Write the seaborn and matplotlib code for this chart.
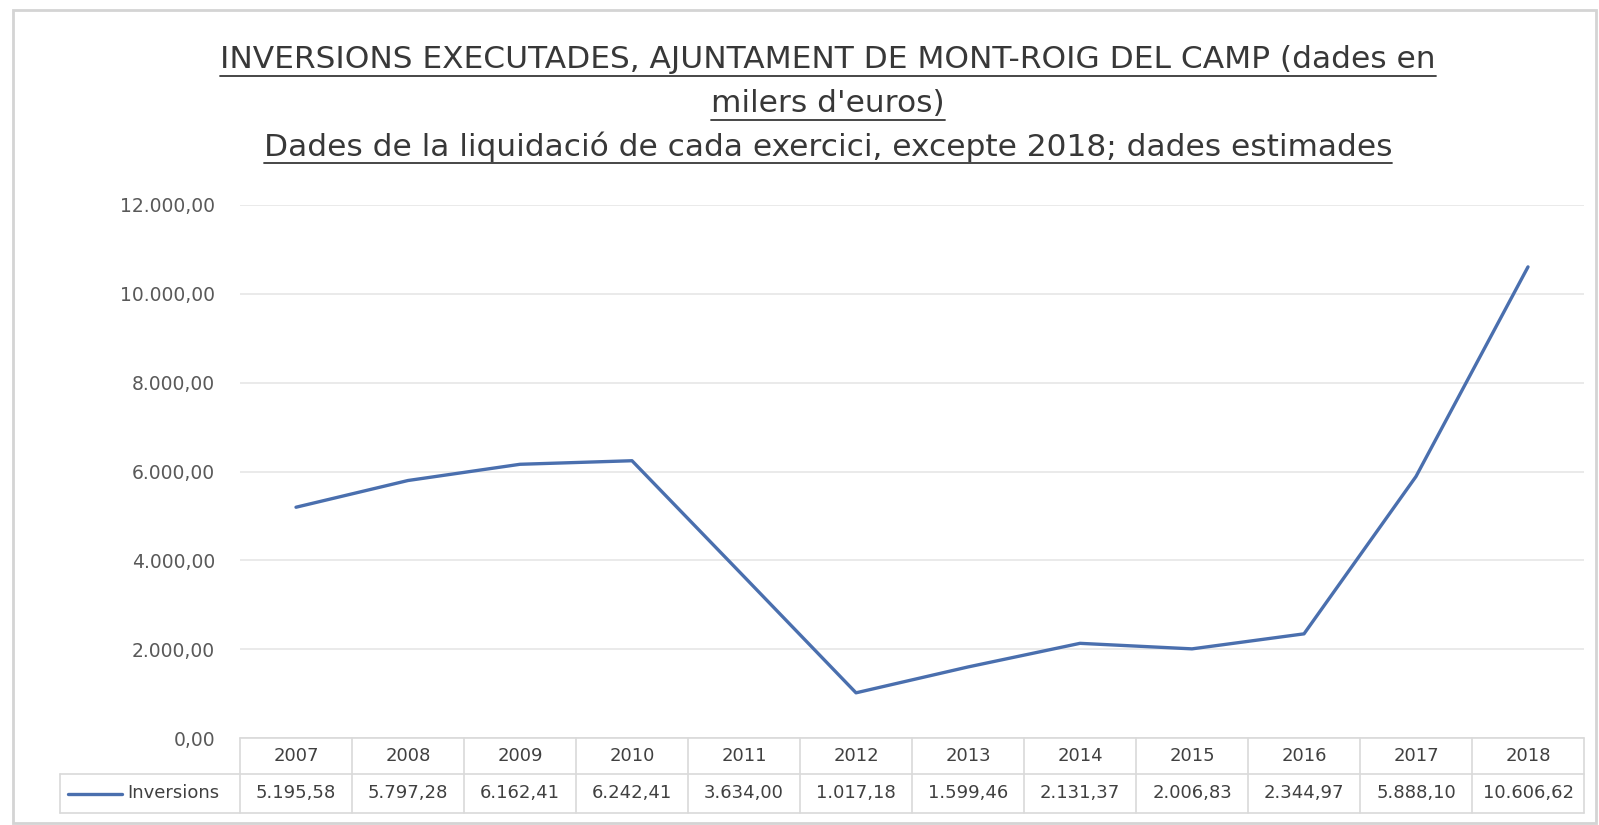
import pandas as pd
import matplotlib.pyplot as plt
import seaborn as sns
from matplotlib.lines import Line2D
from matplotlib.patches import Rectangle

years = [2007, 2008, 2009, 2010, 2011, 2012, 2013, 2014, 2015, 2016, 2017, 2018]
inversions = [5195.58, 5797.28, 6162.41, 6242.41, 3634.00, 1017.18,
              1599.46, 2131.37, 2006.83, 2344.97, 5888.10, 10606.62]
series_name = "Inversions"
y_ticks = [0, 2000, 4000, 6000, 8000, 10000, 12000]
title_lines = [
    "INVERSIONS EXECUTADES, AJUNTAMENT DE MONT-ROIG DEL CAMP (dades en",
    "milers d'euros)",
    "Dades de la liquidació de cada exercici, excepte 2018; dades estimades",
]


def euro_fmt(v):
    # 10606.62 -> "10.606,62"
    s = f"{v:,.2f}"
    return s.replace(",", "X").replace(".", ",").replace("X", ".")


W, H = 1599, 825
sns.set_style("white")
plt.rcParams['font.family'] = ['DejaVu Sans']

fig = plt.figure(figsize=(W / 100, H / 100), dpi=100)


def fx(px):
    return px / W


def fy(py):
    return 1 - py / H


line_color = '#4a6fae'
text_gray = '#595959'
dark_gray = '#404040'
title_color = '#383838'
grid_gray = '#e6e6e6'
table_gray = '#d9d9d9'

# plot area
left, right, top, bottom = 240, 1584, 205, 738
ax = fig.add_axes([fx(left), fy(bottom), fx(right) - fx(left), fy(top) - fy(bottom)])
df = pd.DataFrame({"year": years, "value": inversions})
sns.lineplot(data=df, x="year", y="value", ax=ax, color=line_color, linewidth=2.4)
ax.set_xlim(years[0] - 0.5, years[-1] + 0.5)
ax.set_ylim(y_ticks[0], y_ticks[-1])
ax.set_yticks(y_ticks)
ax.set_yticklabels([euro_fmt(t) for t in y_ticks])
ax.set_xticks([])
ax.set_xlabel('')
ax.set_ylabel('')
ax.grid(axis='y', color=grid_gray, linewidth=1.2)
ax.grid(axis='x', visible=False)
for sp in ax.spines.values():
    sp.set_visible(False)
ax.tick_params(axis='y', length=0, pad=18, labelsize=13.5, labelcolor=text_gray)

# data table under the plot
col_px = (right - left) / len(years)
tab_top, tab_mid, tab_bot = 738, 774, 813
tax = fig.add_axes([fx(left), fy(tab_bot), fx(right) - fx(left), fy(tab_top) - fy(tab_bot)])
tax.set_xlim(years[0] - 0.5, years[-1] + 0.5)
tax.set_ylim(0, 1)
tax.axis('off')


def px_to_x(px):
    return years[0] - 0.5 - (left - px) / col_px


mid = (tab_bot - tab_mid) / (tab_bot - tab_top)
x_lab = px_to_x(60)
x_end = years[-1] + 0.5
kw = dict(color=table_gray, linewidth=1.2, clip_on=False)
tax.plot([years[0] - 0.5, x_end], [1, 1], **kw)
tax.plot([x_lab, x_end], [mid, mid], **kw)
tax.plot([x_lab, x_end], [0, 0], **kw)
for k in range(len(years) + 1):
    xb = years[0] - 0.5 + k
    tax.plot([xb, xb], [0, 1], **kw)
tax.plot([x_lab, x_lab], [0, mid], **kw)

for yr, v in zip(years, inversions):
    tax.text(yr, (1 + mid) / 2, str(yr), ha='center', va='center',
             fontsize=13, color=dark_gray, clip_on=False)
    tax.text(yr, mid / 2, euro_fmt(v), ha='center', va='center',
             fontsize=13, color=dark_gray, clip_on=False)

tax.plot([px_to_x(68), px_to_x(122)], [mid / 2, mid / 2], color=line_color,
         linewidth=2.4, clip_on=False)
tax.text(px_to_x(127), mid / 2, series_name, ha='left', va='center',
         fontsize=13, color=dark_gray, clip_on=False)

# title, fitted to the reference width and underlined
title_y = [60, 104, 147]
titles = [fig.text(fx(828), fy(y), t, ha='center', va='center', fontsize=20,
                   color=title_color)
          for t, y in zip(title_lines, title_y)]
fig.canvas.draw()
r = fig.canvas.get_renderer()
w0 = titles[0].get_window_extent(r).width
size = 20 * 1216 / w0
for t in titles:
    t.set_fontsize(size)
fig.canvas.draw()
for t in titles:
    bb = t.get_window_extent(r)
    fig.add_artist(Line2D([bb.x0 / W, bb.x1 / W], [(bb.y0 - 1) / H] * 2,
                          transform=fig.transFigure, color=title_color, linewidth=1.3))

# chart frame
fig.add_artist(Rectangle((fx(13), fy(823)), fx(1596) - fx(13), fy(10) - fy(823),
                         transform=fig.transFigure, fill=False,
                         edgecolor='#d4d4d4', linewidth=2))

fig.savefig('out.png', dpi=100)
